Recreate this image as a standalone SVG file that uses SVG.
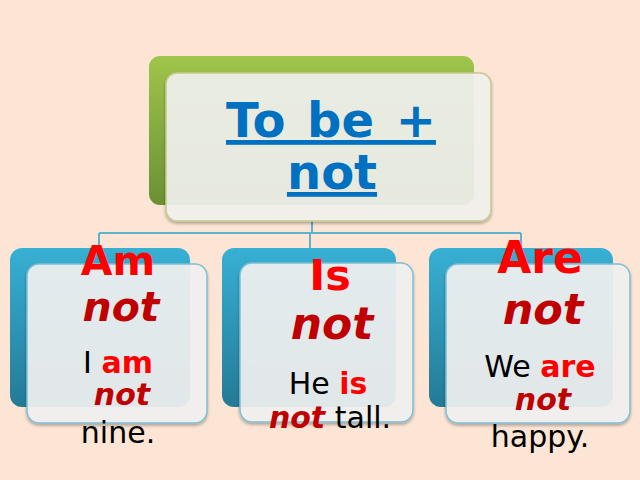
<svg xmlns="http://www.w3.org/2000/svg" width="640" height="480" viewBox="0 0 640 480">
  <defs>
    <linearGradient id="gGreen" x1="0" y1="0" x2="0" y2="1">
      <stop offset="0" stop-color="#9fc54b"/>
      <stop offset="1" stop-color="#6b9034"/>
    </linearGradient>
    <linearGradient id="gTeal" x1="0" y1="0" x2="0" y2="1">
      <stop offset="0" stop-color="#37b0d4"/>
      <stop offset="1" stop-color="#247a95"/>
    </linearGradient>
    <filter id="shadow" x="-10%" y="-10%" width="125%" height="130%">
      <feDropShadow dx="0" dy="2" stdDeviation="1.5" flood-color="#000" flood-opacity="0.3"/>
    </filter>
  </defs>
  <style>
    .back-top { fill: url(#gGreen); }
    .back { fill: url(#gTeal); }
    .front-top { fill: #f3f3f0; fill-opacity: 0.9; stroke: #c6c98e; stroke-width: 1.5; filter: url(#shadow); }
    .front { fill: #f3f3f3; fill-opacity: 0.9; stroke: #7dbfd3; stroke-width: 1.5; filter: url(#shadow); }
    .conn { stroke: #5ab3cf; stroke-width: 2; fill: none; }
    text { font-family: "DejaVu Sans", "Liberation Sans", sans-serif; text-anchor: middle; }
    .title { font-weight: bold; font-size: 48px; fill: #0070c0; text-decoration: underline; word-spacing: 5px; }
    .head { font-weight: bold; fill: #ff0000; }
    .neg { font-weight: bold; font-style: italic; fill: #c00000; }
    .body { font-size: 30px; fill: #000; }
    .red { font-weight: bold; fill: #ff0000; }
    .dred { font-weight: bold; font-style: italic; fill: #c00000; }
  </style>
  <rect width="640" height="480" fill="#fde5d5"/>

  <g id="connectors">
    <path class="conn" d="M312 221 V233"/>
    <path class="conn" d="M99 233 H521"/>
    <path class="conn" d="M99 233 V249"/>
    <path class="conn" d="M310 233 V249"/>
    <path class="conn" d="M521 233 V249"/>
  </g>

  <g id="node-top">
    <rect class="back-top" x="149" y="56" width="325" height="149" rx="11"/>
    <rect class="front-top" x="166" y="73" width="325" height="148" rx="11"/>
    <text class="title" x="331" y="137">To be +</text>
    <text class="title" x="332" y="189">not</text>
  </g>

  <g id="node-am">
    <rect class="back" x="10" y="248" width="180" height="159" rx="12"/>
    <rect class="front" x="27" y="264" width="180" height="159" rx="12"/>
    <text class="head" x="118" y="275" font-size="41">Am</text>
    <text class="neg" x="121" y="321" font-size="41">not</text>
    <text class="body" x="118" y="373">I <tspan class="red">am</tspan></text>
    <text class="body" x="122" y="405"><tspan class="dred">not</tspan></text>
    <text class="body" x="118" y="443">nine.</text>
  </g>

  <g id="node-is">
    <rect class="back" x="222" y="248" width="174" height="159" rx="12"/>
    <rect class="front" x="240" y="263" width="173" height="159" rx="12"/>
    <text class="head" x="330" y="290" font-size="43">Is</text>
    <text class="neg" x="332" y="339" font-size="44">not</text>
    <text class="body" x="328" y="394">He <tspan class="red">is</tspan></text>
    <text class="body" x="330" y="428"><tspan class="dred">not</tspan> tall.</text>
  </g>

  <g id="node-are">
    <rect class="back" x="429" y="248" width="184" height="159" rx="12"/>
    <rect class="front" x="446" y="264" width="184" height="159" rx="12"/>
    <text class="head" x="540" y="273" font-size="44">Are</text>
    <text class="neg" x="543" y="324" font-size="43">not</text>
    <text class="body" x="540" y="377">We <tspan class="red">are</tspan></text>
    <text class="body" x="543" y="410"><tspan class="dred">not</tspan></text>
    <text class="body" x="540" y="447">happy.</text>
  </g>
</svg>
